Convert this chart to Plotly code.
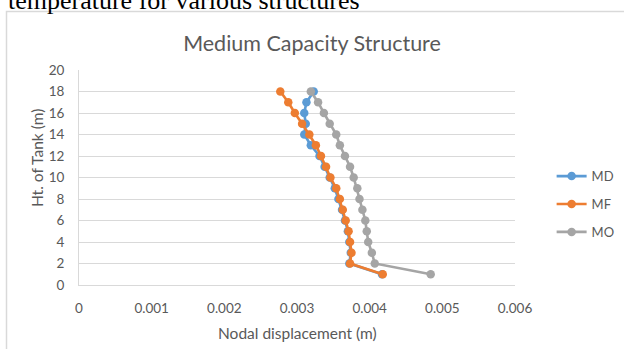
import plotly.graph_objects as go

heights = list(range(1, 19))
md = [4.17, 3.72, 3.74, 3.72, 3.70, 3.66, 3.62, 3.57, 3.52, 3.45, 3.38, 3.31, 3.19, 3.10, 3.12, 3.10, 3.13, 3.23]
mf = [4.18, 3.73, 3.75, 3.73, 3.71, 3.67, 3.63, 3.59, 3.54, 3.46, 3.40, 3.33, 3.26, 3.17, 3.07, 2.97, 2.88, 2.77]
mo = [4.84, 4.07, 4.03, 3.98, 3.96, 3.94, 3.90, 3.86, 3.83, 3.78, 3.73, 3.66, 3.59, 3.54, 3.45, 3.37, 3.29, 3.19]
md = [v / 1000 for v in md]
mf = [v / 1000 for v in mf]
mo = [v / 1000 for v in mo]
x_ticks = [0, 0.001, 0.002, 0.003, 0.004, 0.005, 0.006]
x_labels = ["0", "0.001", "0.002", "0.003", "0.004", "0.005", "0.006"]
y_ticks = list(range(0, 21, 2))

FONT = "Lato"
GREY = "#595959"

fig = go.Figure()
for name, vals, col in [("MD", md, "#5B9BD5"), ("MF", mf, "#ED7D31"), ("MO", mo, "#A5A5A5")]:
    fig.add_trace(go.Scatter(
        x=vals, y=heights, name=name, mode="lines+markers", legendgroup=name,
        line=dict(color=col, width=2.6),
        marker=dict(color=col, size=8.5, symbol="circle"),
    ))

fig.update_layout(
    width=624, height=349,
    margin=dict(l=79, r=109, t=70, b=64, autoexpand=False),
    paper_bgcolor="white", plot_bgcolor="white",
    font=dict(family=FONT, color=GREY, size=13),
    title=dict(text="Medium Capacity Structure", x=0.5, xref="container", xanchor="center",
               y=1 - 43 / 349, yref="container", yanchor="middle",
               font=dict(family=FONT, size=21.5, color=GREY)),
    showlegend=True,
    legend=dict(x=1.084, xanchor="left", y=0.376, yanchor="middle",
                font=dict(family=FONT, size=13, color=GREY),
                tracegroupgap=8, bgcolor="rgba(0,0,0,0)"),
    xaxis=dict(range=[0, 0.006], tickvals=x_ticks, ticktext=x_labels, showgrid=False,
               showline=True, linecolor="#d9d9d9", linewidth=1, zeroline=False, automargin=False,
               ticks="", ticklabelstandoff=11, tickfont=dict(size=13.5, color=GREY)),
    yaxis=dict(range=[0, 20], tickvals=y_ticks, showgrid=True, gridcolor="#d9d9d9", gridwidth=1,
               showline=True, linecolor="#d9d9d9", linewidth=1, zeroline=False, automargin=False,
               ticks="", ticklabelstandoff=11, tickfont=dict(size=13.5, color=GREY)),
    annotations=[
        dict(text="Nodal displacement (m)", xref="paper", yref="paper", x=0.5, y=(285 - 333) / 215,
             xanchor="center", yanchor="middle", showarrow=False,
             font=dict(family=FONT, size=15.5, color=GREY)),
        dict(text="Ht. of Tank (m)", xref="paper", yref="paper", x=(37 - 79) / 436, y=(285 - 158) / 215,
             xanchor="center", yanchor="middle", textangle=-90, showarrow=False,
             font=dict(family=FONT, size=15.5, color=GREY)),
        dict(text="temperature for various structures", xref="paper", yref="paper",
             x=(6 - 79) / 436, y=(285 + 0) / 215, xanchor="left", yanchor="middle", showarrow=False,
             font=dict(family="Liberation Serif", size=26, color="black")),
    ],
    shapes=[dict(type="rect", xref="paper", yref="paper",
                 x0=(6.5 - 79) / 436, x1=3, y0=-2, y1=(285 - 11.5) / 215,
                 line=dict(color="#d9d9d9", width=1.5), fillcolor="rgba(0,0,0,0)", layer="below")],
)

fig.write_html("out.html")
